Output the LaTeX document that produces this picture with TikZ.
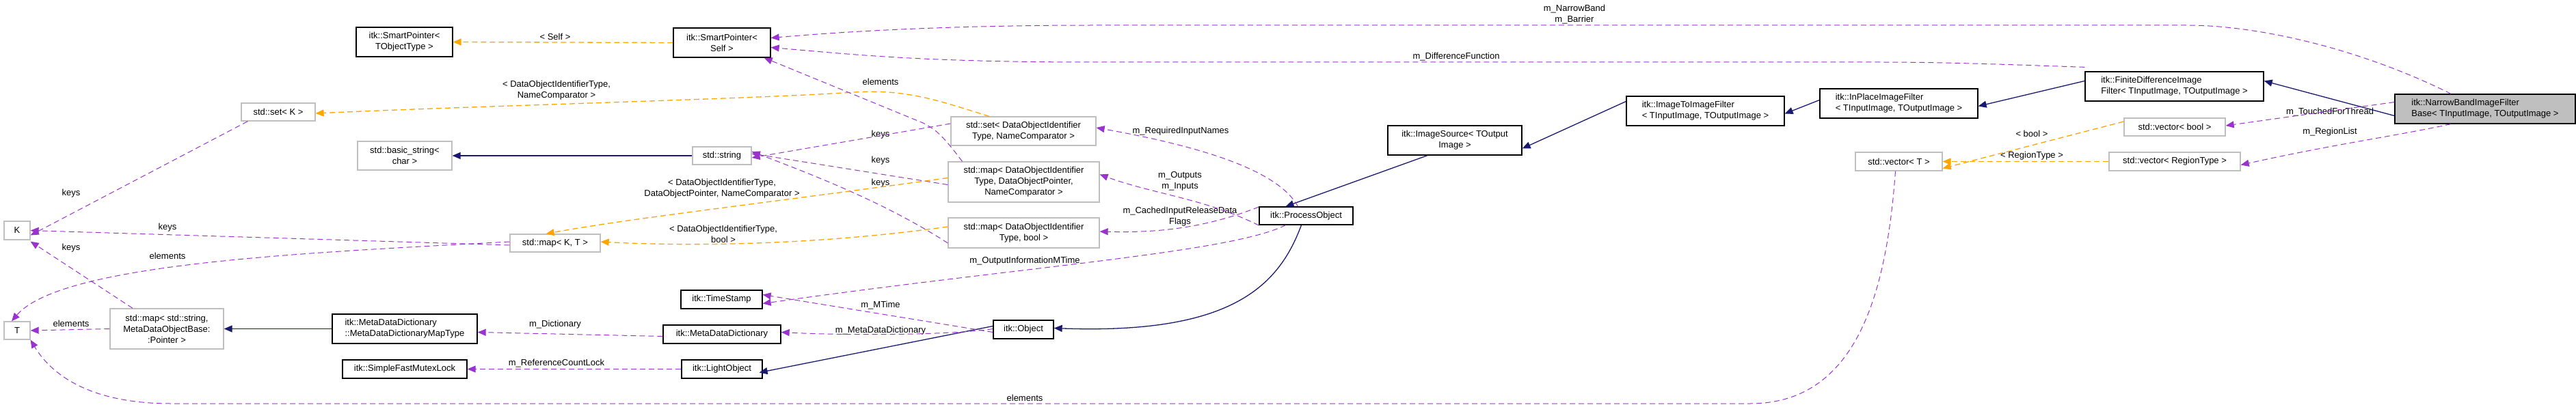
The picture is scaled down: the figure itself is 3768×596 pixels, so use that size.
\documentclass[tikz,border=0pt]{standalone}
\usepackage{fontspec}
\setmainfont{Liberation Sans}
\usetikzlibrary{arrows.meta}
\definecolor{inhc}{HTML}{191970}
\definecolor{usec}{HTML}{9A32CD}
\definecolor{tmpc}{HTML}{FFA500}
\definecolor{extc}{HTML}{BFBFBF}
\begin{document}
\begin{tikzpicture}[x=1pt,y=-1pt,
  font=\fontsize{13}{16}\selectfont,
  box/.style={rectangle,inner sep=0pt,line width=1.3pt,fill=white,align=center},
  cls/.style={box,draw=black},
  ext/.style={box,draw=extc},
  main/.style={box,draw=black,fill=extc},
  inh/.style={-{Triangle[length=12pt,width=10pt,fill=inhc]},draw=inhc,line width=1.3pt},
  use/.style={-{Triangle[length=12pt,width=10pt,fill=usec]},draw=usec,line width=1pt,dash pattern=on 8pt off 5pt},
  tmp/.style={-{Triangle[length=12pt,width=10pt,fill=tmpc]},draw=tmpc,line width=1.3pt,dash pattern=on 8pt off 5pt},
  lbl/.style={inner sep=0pt,align=center}]
\useasboundingbox (0,0) rectangle (3768,596);
% nodes
\node[cls,minimum width=141,minimum height=43] (spTO) at (591.5,61.5) {itk::SmartPointer<\\TObjectType >};
\node[cls,minimum width=142,minimum height=43] (spSelf) at (1056,62.5) {itk::SmartPointer<\\Self >};
\node[ext,minimum width=108,minimum height=26] (setK) at (407,164) {std::set< K >};
\node[ext,minimum width=138,minimum height=42] (bstr) at (592,228) {std::basic\_string<\\char >};
\node[ext,minimum width=38,minimum height=27] (K) at (25,337.5) {K};
\node[ext,minimum width=132,minimum height=26] (mapKT) at (812,356) {std::map< K, T >};
\node[ext,minimum width=38,minimum height=26] (T) at (25,484) {T};
\node[ext,minimum width=166,minimum height=59] (mapStr) at (244,481.5) {std::map< std::string,\\MetaDataObjectBase:\\:Pointer >};
\node[cls,minimum width=212,minimum height=43,align=left] (mddMap) at (592,481.5) {itk::MetaDataDictionary\\::MetaDataDictionaryMapType};
\node[cls,minimum width=182,minimum height=27] (mutex) at (592,540.5) {itk::SimpleFastMutexLock};
\node[ext,minimum width=212,minimum height=42] (setDOI) at (1497,192) {std::set< DataObjectIdentifier\\Type, NameComparator >};
\node[ext,minimum width=86,minimum height=26] (str) at (1056,228) {std::string};
\node[ext,minimum width=221,minimum height=59] (mapDOP) at (1497.5,266.5) {std::map< DataObjectIdentifier\\Type, DataObjectPointer,\\NameComparator >};
\node[ext,minimum width=221,minimum height=44] (mapDOB) at (1497.5,341) {std::map< DataObjectIdentifier\\Type, bool >};
\node[cls,minimum width=119,minimum height=27] (ts) at (1055.5,438.5) {itk::TimeStamp};
\node[cls,minimum width=172,minimum height=27] (mdd) at (1056,489.5) {itk::MetaDataDictionary};
\node[cls,minimum width=118,minimum height=27] (light) at (1056,540.5) {itk::LightObject};
\node[cls,minimum width=88,minimum height=27] (obj) at (1497,482.5) {itk::Object};
\node[cls,minimum width=137,minimum height=26] (proc) at (1910.5,316) {itk::ProcessObject};
\node[cls,minimum width=196,minimum height=43] (isrc) at (2128,205.5) {itk::ImageSource< TOutput\\Image >};
\node[cls,minimum width=231,minimum height=43,align=left] (i2i) at (2494.5,162.5) {itk::ImageToImageFilter\\< TInputImage, TOutputImage >};
\node[cls,minimum width=231,minimum height=43,align=left] (inpl) at (2777.5,151.5) {itk::InPlaceImageFilter\\< TInputImage, TOutputImage >};
\node[ext,minimum width=127,minimum height=27] (vecT) at (2777.5,236.5) {std::vector< T >};
\node[cls,minimum width=261,minimum height=43,align=left] (fdif) at (3180.5,126.5) {itk::FiniteDifferenceImage\\Filter< TInputImage, TOutputImage >};
\node[main,minimum width=264,minimum height=43,align=left] (nb) at (3635,159.5) {itk::NarrowBandImageFilter\\Base< TInputImage, TOutputImage >};
\node[ext,minimum width=148,minimum height=26] (vecB) at (3181,186) {std::vector< bool >};
\node[ext,minimum width=192,minimum height=27] (vecR) at (3181,236.5) {std::vector< RegionType >};
% labels
\node[lbl] (l1) at (812,54) {< Self >};
\node[lbl] (l2) at (2303,21) {m\_NarrowBand\\m\_Barrier};
\node[lbl] (l3) at (2130,83) {m\_DifferenceFunction};
\node[lbl] (l4) at (814,132) {< DataObjectIdentifierType,\\NameComparator >};
\node[lbl] (l5) at (104,283) {keys};
\node[lbl] (l6) at (245,333) {keys};
\node[lbl] (l7) at (104,363) {keys};
\node[lbl] (l8) at (245,375) {elements};
\node[lbl] (l9) at (104,474) {elements};
\node[lbl] (l10) at (812,475) {m\_Dictionary};
\node[lbl] (l11) at (814,532) {m\_ReferenceCountLock};
\node[lbl] (l12) at (1499,583) {elements};
\node[lbl] (l13) at (1288,120) {elements};
\node[lbl] (l14) at (1288,197) {keys};
\node[lbl] (l15) at (1288,235) {keys};
\node[lbl] (l16) at (1288,268) {keys};
\node[lbl] (l17) at (1056,276) {< DataObjectIdentifierType,\\DataObjectPointer, NameComparator >};
\node[lbl] (l18) at (1058,343) {< DataObjectIdentifierType,\\bool >};
\node[lbl] (l19) at (1727,192) {m\_RequiredInputNames};
\node[lbl] (l20) at (1726,265) {m\_Outputs\\m\_Inputs};
\node[lbl] (l21) at (1726,317) {m\_CachedInputReleaseData\\Flags};
\node[lbl] (l22) at (1499,382) {m\_OutputInformationMTime};
\node[lbl] (l23) at (1288,447) {m\_MTime};
\node[lbl] (l24) at (1288,484) {m\_MetaDataDictionary};
\node[lbl] (l25) at (3408,164) {m\_TouchedForThread};
\node[lbl] (l26) at (3408,193) {m\_RegionList};
\node[lbl] (l27) at (2972,196) {< bool >};
\node[lbl] (l28) at (2972,228) {< RegionType >};
% edges
\draw[tmp] (spSelf.west) -- (spTO.east);
\draw[use] ([xshift=-50]nb.north) .. controls (3450,70) and (3300,37) .. (3200,37) -- (1600,37) .. controls (1400,37) and (1250,45) .. ([yshift=7]spSelf.east);
\draw[use] ([yshift=6]fdif.north west) .. controls (2950,95) and (2850,91) .. (2750,91) -- (1600,91) .. controls (1350,91) and (1250,80) .. ([yshift=-7]spSelf.east);
\draw[inh] ([yshift=8]fdif.west) -- ([yshift=-4]inpl.east);
\draw[inh] ([yshift=-10]nb.west) -- ([yshift=8]fdif.east);
\draw[inh] ([yshift=5]inpl.west) -- ([yshift=-4]i2i.east);
\draw[inh] ([yshift=14]i2i.west) -- ([yshift=-12]isrc.east);
\draw[inh] ([xshift=-40]isrc.south) -- ([xshift=-30]proc.north);
\draw[inh] ([xshift=-7]proc.south) .. controls (1870,420) and (1800,490) .. ([yshift=2]obj.east);
\draw[inh] ([yshift=5]obj.west) -- ([xshift=-5,yshift=-5]light.east);
\draw[use] ([yshift=10]nb.west) -- ([yshift=2]vecB.east);
\draw[use] ([xshift=-50]nb.south) .. controls (3500,200) and (3420,210) .. ([yshift=-5]vecR.east);
\draw[tmp] ([yshift=8]vecB.west) -- ([yshift=-10]vecT.east);
\draw[tmp] (vecR.west) -- (vecT.east);
\draw[use] ([xshift=-5]vecT.south) .. controls (2760,420) and (2720,591) .. (2560,591) -- (250,591) .. controls (120,591) and (70,540) .. (T.south east);
\draw[use] ([xshift=-12]proc.north) .. controls (1870,250) and (1760,215) .. ([yshift=5]setDOI.east);
\draw[use] ([yshift=-14]proc.west) .. controls (1760,290) and (1690,285) .. ([yshift=11]mapDOP.east);
\draw[use] ([yshift=13]proc.west) .. controls (1760,335) and (1690,341) .. ([yshift=2]mapDOB.east);
\draw[use] ([xshift=-30]proc.south) .. controls (1800,370) and (1500,390) .. ([yshift=-6]ts.east);
\draw[use] ([yshift=-4]obj.west) -- ([yshift=7]ts.east);
\draw[use] ([yshift=1]obj.west) .. controls (1400,490) and (1250,492) .. ([yshift=3]mdd.east);
\draw[tmp] ([xshift=-50]setDOI.north) .. controls (1380,150) and (1330,130) .. (1250,135) .. controls (1100,145) and (700,155) .. ([yshift=-2]setK.east);
\draw[use] ([yshift=11]setDOI.west) -- ([yshift=-3]str.east);
\draw[use] ([yshift=-4]mapDOP.west) -- ([yshift=3]str.east);
\draw[use] ([yshift=-15]mapDOB.west) .. controls (1300,300) and (1200,260) .. ([yshift=6]str.east);
\draw[use] ([xshift=-90]mapDOP.north) .. controls (1380,200) and (1370,190) .. (1350,180) -- ([xshift=-10]spSelf.south east);
\draw[tmp] ([yshift=6]mapDOP.west) .. controls (1100,300) and (920,320) .. ([xshift=-80]mapKT.north east);
\draw[tmp] ([yshift=9]mapDOB.west) .. controls (1150,365) and (950,358) .. ([yshift=2]mapKT.east);
\draw[use] ([xshift=10]setK.south west) -- ([yshift=-7]K.east);
\draw[use] ([yshift=-3]mapKT.west) -- (K.east);
\draw[use] ([yshift=2]mapKT.west) .. controls (450,370) and (90,385) .. ([xshift=-8]T.north);
\draw[use] ([xshift=-50]mapStr.north) -- ([yshift=-2]K.south east);
\draw[use] (mapStr.west) -- (T.east);
\draw[inh] (mddMap.west) -- (mapStr.east);
\draw[use] ([yshift=-3]mdd.west) -- ([yshift=-5]mddMap.east);
\draw[use] (light.west) -- (mutex.east);
\draw[inh] (str.west) -- (bstr.east);
\end{tikzpicture}
\end{document}
